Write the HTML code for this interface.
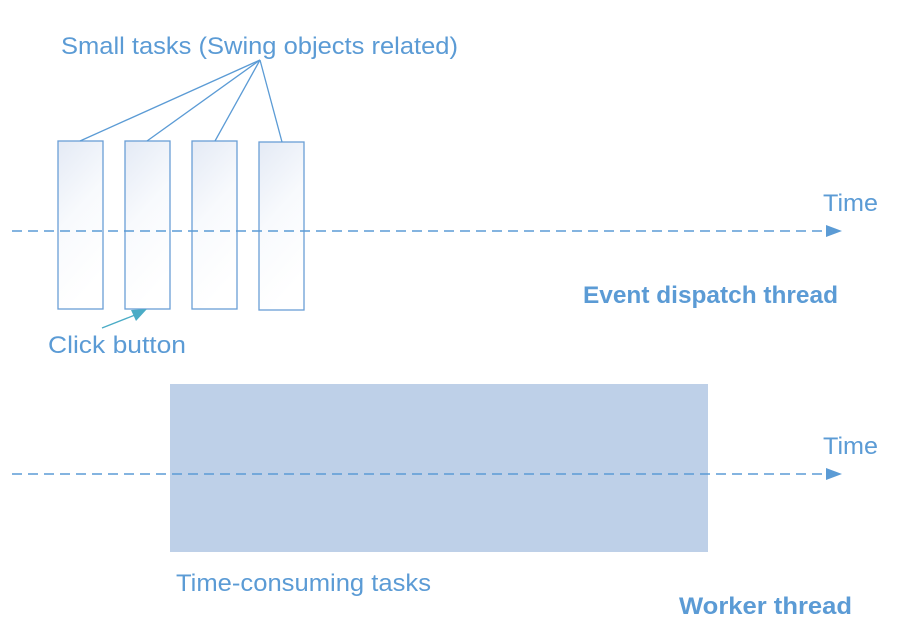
<!DOCTYPE html>
<html><head><style>body{margin:0;background:#fff}svg{display:block}</style></head><body>
<svg width="900" height="632" viewBox="0 0 900 632" xmlns="http://www.w3.org/2000/svg" font-family="Liberation Sans, sans-serif" fill="#5B9BD5">
<defs><linearGradient id="g" x1="0" y1="0" x2="0.3" y2="1"><stop offset="0" stop-color="#E4EAF5"/><stop offset="0.5" stop-color="#F8FAFD"/><stop offset="1" stop-color="#fff"/></linearGradient></defs>
<rect x="170" y="384" width="538" height="168" fill="#BED0E8"/>
<g fill="url(#g)" stroke="#6A9FD6" stroke-width="1.3">
<rect x="58" y="141" width="45" height="168"/>
<rect x="125" y="141" width="45" height="168"/>
<rect x="192" y="141" width="45" height="168"/>
<rect x="259" y="142" width="45" height="168"/>
</g>
<g stroke="#5B9BD5" stroke-width="1.6" stroke-dasharray="10 6" fill="none">
<line x1="12" y1="231" x2="828" y2="231"/>
<line x1="12" y1="474" x2="828" y2="474"/>
</g>
<polygon points="826,225 842,231 826,237"/>
<polygon points="826,468 842,474 826,480"/>
<g stroke="#5B9BD5" stroke-width="1.3">
<line x1="260" y1="60" x2="80" y2="141"/>
<line x1="260" y1="60" x2="147" y2="141"/>
<line x1="260" y1="60" x2="215" y2="141"/>
<line x1="260" y1="60" x2="282" y2="142"/>
<line x1="102" y1="328" x2="135" y2="315" stroke="#4BACC6"/>
</g>
<polygon points="147,309 131,310 136,321" fill="#4BACC6"/>
<g font-size="24">
<text x="61" y="54" textLength="397" lengthAdjust="spacingAndGlyphs">Small tasks (Swing objects related)</text>
<text x="823" y="211" textLength="55" lengthAdjust="spacingAndGlyphs">Time</text>
<text x="823" y="454" textLength="55" lengthAdjust="spacingAndGlyphs">Time</text>
<text x="48" y="353" textLength="138" lengthAdjust="spacingAndGlyphs">Click button</text>
<text x="176" y="591" textLength="255" lengthAdjust="spacingAndGlyphs">Time-consuming tasks</text>
<text x="583" y="303" font-weight="bold" textLength="255" lengthAdjust="spacingAndGlyphs">Event dispatch thread</text>
<text x="679" y="614" font-weight="bold" textLength="173" lengthAdjust="spacingAndGlyphs">Worker thread</text>
</g>
</svg>
</body></html>
